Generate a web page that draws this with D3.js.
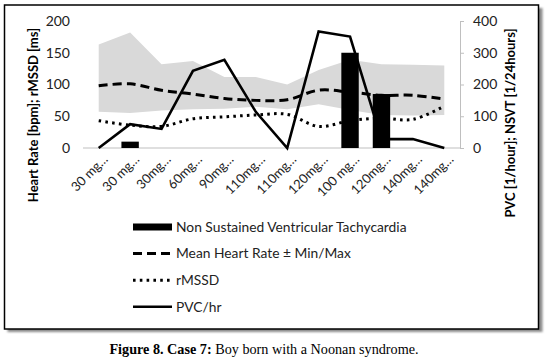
<!DOCTYPE html>
<html>
<head>
<meta charset="utf-8">
<script src="https://cdn.jsdelivr.net/npm/d3@7"></script>
<style>
  body { margin: 0; background: #fff; }
  svg { display: block; }
</style>
</head>
<body>
<svg id="chart" width="548" height="361"></svg>
<script>
// data
const doses = ["30 mg…", "30 mg…", "30mg…", "60mg…", "90mg…", "110mg…", "110mg…", "120mg…", "100 mg…", "120mg…", "140mg…", "140mg…"];
const nsvt = [0, 20, 0, 0, 0, 0, 0, 0, 300, 170, 0, 0];            // right axis
const hrMean = [98, 101, 91, 85, 78, 75, 76, 91, 88, 83, 83, 77];  // left axis
const hrMin = [57, 55, 59, 61, 62, 65, 61, 69, 60, 52, 51, 52];
const hrMax = [163, 182, 132, 137, 112, 112, 100, 123, 139, 132, 131, 130];
const rmssd = [43, 36, 34, 46, 49, 52, 53, 34, 43, 47, 45, 66];
const pvc = [0, 75, 60, 243, 278, 114, 0, 367, 351, 28, 28, 0];    // right axis
const leftTicks = [0, 50, 100, 150, 200];
const rightTicks = [0, 100, 200, 300, 400];

const svg = d3.select("#chart");
const font = "Lato, 'Open Sans', sans-serif";

// frame with shadow
svg.append("defs").append("filter").attr("id", "sh")
  .append("feGaussianBlur").attr("stdDeviation", 1.2);
svg.append("rect").attr("x", 7.5).attr("y", 8).attr("width", 535).attr("height", 324)
  .attr("fill", "#8a8a8a").attr("filter", "url(#sh)");
svg.append("rect").attr("x", 4.5).attr("y", 5).attr("width", 534).attr("height", 324)
  .attr("fill", "#fff").attr("stroke", "#000").attr("stroke-width", 1.5);

const plotL = 83, plotR = 460, plotT = 21, plotB = 148;

const x = d3.scaleBand().domain(d3.range(doses.length)).range([plotL, plotR]);
const cx = i => x(i) + x.bandwidth() / 2;
const yL = d3.scaleLinear().domain([0, 200]).range([plotB, plotT]);
const yR = d3.scaleLinear().domain([0, 400]).range([plotB, plotT]);

// min/max band
const band = d3.area()
  .x((d, i) => cx(i))
  .y0((d, i) => yL(hrMin[i]))
  .y1(d => yL(d));
svg.append("path").datum(hrMax).attr("d", band).attr("fill", "#d9d9d9");

// x axis line
svg.append("line").attr("x1", plotL).attr("x2", plotR).attr("y1", plotB).attr("y2", plotB)
  .attr("stroke", "#bfbfbf").attr("stroke-width", 1);

// NSVT bars
svg.selectAll("rect.bar").data(nsvt).join("rect").attr("class", "bar")
  .attr("x", (d, i) => cx(i) - 8.7)
  .attr("width", 17.4)
  .attr("y", d => yR(d))
  .attr("height", d => plotB - yR(d))
  .attr("fill", "#000");

// lines
const smooth = d3.line().x((d, i) => cx(i)).y(d => yL(d)).curve(d3.curveCatmullRom.alpha(0.5));
svg.append("path").datum(hrMean).attr("d", smooth)
  .attr("fill", "none").attr("stroke", "#000").attr("stroke-width", 3)
  .attr("stroke-dasharray", "9 5");
svg.append("path").datum(rmssd).attr("d", smooth)
  .attr("fill", "none").attr("stroke", "#000").attr("stroke-width", 3)
  .attr("stroke-dasharray", "2.6 4.2");
const straight = d3.line().x((d, i) => cx(i)).y(d => yR(d));
svg.append("path").datum(pvc).attr("d", straight)
  .attr("fill", "none").attr("stroke", "#000").attr("stroke-width", 2.6)
  .attr("stroke-linejoin", "miter");

// left axis (labels only)
const gL = svg.append("g").attr("transform", `translate(${plotL},0)`)
  .call(d3.axisLeft(yL).tickValues(leftTicks).tickSize(0).tickPadding(13));
gL.select(".domain").remove();
gL.selectAll("text").attr("font-family", font).attr("font-size", 14).attr("fill", "#222");

// right axis
const gR = svg.append("g").attr("transform", `translate(${plotR},0)`)
  .call(d3.axisRight(yR).tickValues(rightTicks).tickSize(4).tickPadding(9));
gR.select(".domain").attr("stroke", "#bfbfbf");
gR.selectAll("line").attr("stroke", "#bfbfbf");
gR.selectAll("text").attr("font-family", font).attr("font-size", 14).attr("fill", "#222");

// category labels
svg.selectAll("text.cat").data(doses).join("text").attr("class", "cat")
  .attr("transform", (d, i) => `translate(${cx(i) + 10},160) rotate(-45)`)
  .attr("text-anchor", "end")
  .attr("font-family", font).attr("font-size", 13).attr("fill", "#222")
  .text(d => d);

// axis titles
svg.append("text").attr("transform", "translate(38,115) rotate(-90)")
  .attr("text-anchor", "middle").attr("font-family", font).attr("font-weight", "bold")
  .attr("font-size", 13).text("Heart Rate [bpm]; rMSSD [ms]");
svg.append("text").attr("transform", "translate(515,123) rotate(-90)")
  .attr("text-anchor", "middle").attr("font-family", font).attr("font-weight", "bold")
  .attr("font-size", 13).text("PVC [1/hour]; NSVT [1/24hours]");

// legend
const legend = [
  { name: "Non Sustained Ventricular Tachycardia", kind: "bar" },
  { name: "Mean Heart Rate ± Min/Max", kind: "dash" },
  { name: "rMSSD", kind: "dot" },
  { name: "PVC/hr", kind: "solid" }
];
const lg = svg.selectAll("g.leg").data(legend).join("g").attr("class", "leg")
  .attr("transform", (d, i) => `translate(133,${227 + i * 26.6})`);
lg.each(function(d) {
  const g = d3.select(this);
  if (d.kind === "bar") {
    g.append("rect").attr("x", 0).attr("y", -3.5).attr("width", 39).attr("height", 7).attr("fill", "#000");
  } else {
    g.append("line").attr("x1", 0).attr("x2", 39).attr("y1", 0).attr("y2", 0)
      .attr("stroke", "#000").attr("stroke-width", d.kind === "solid" ? 2.6 : 3)
      .attr("stroke-dasharray", d.kind === "dash" ? "9 5" : d.kind === "dot" ? "2.6 4.2" : null);
  }
  g.append("text").attr("x", 43).attr("y", 0).attr("dy", "0.35em")
    .attr("font-family", font).attr("font-size", 13.8).attr("fill", "#222").text(d.name);
});

// caption
const cap = svg.append("text").attr("x", 264).attr("y", 354).attr("text-anchor", "middle")
  .attr("font-family", "'Liberation Serif', 'Times New Roman', serif").attr("font-size", 14.2);
cap.append("tspan").attr("font-weight", "bold").text("Figure 8. Case 7:");
cap.append("tspan").text(" Boy born with a Noonan syndrome.");
</script>
</body>
</html>
